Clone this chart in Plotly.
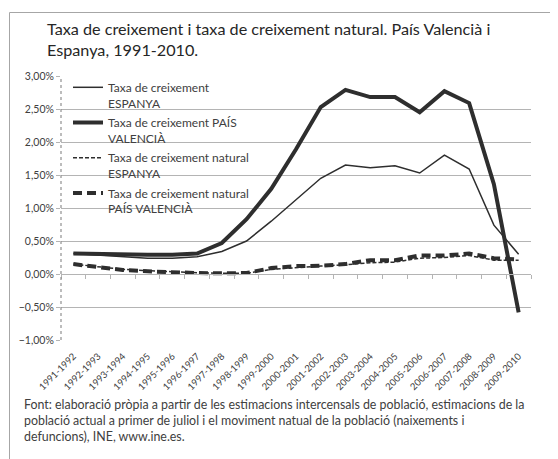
import plotly.graph_objects as go

cats = ["1991-1992", "1992-1993", "1993-1994", "1994-1995", "1995-1996", "1996-1997",
        "1997-1998", "1998-1999", "1999-2000", "2000-2001", "2001-2002", "2002-2003",
        "2003-2004", "2004-2005", "2005-2006", "2006-2007", "2007-2008", "2008-2009",
        "2009-2010"]

es_total = [0.31, 0.29, 0.27, 0.24, 0.24, 0.26, 0.34, 0.50, 0.80, 1.13, 1.45, 1.65,
            1.61, 1.64, 1.53, 1.80, 1.59, 0.74, 0.30]
pv_total = [0.31, 0.30, 0.29, 0.29, 0.29, 0.31, 0.47, 0.83, 1.29, 1.89, 2.53, 2.79,
            2.68, 2.68, 2.45, 2.77, 2.59, 1.36, -0.58]
es_nat = [0.15, 0.11, 0.07, 0.05, 0.03, 0.02, 0.01, 0.01, 0.07, 0.10, 0.12, 0.14,
          0.17, 0.18, 0.24, 0.25, 0.28, 0.21, 0.21]
pv_nat = [0.15, 0.10, 0.06, 0.04, 0.02, 0.015, 0.01, 0.015, 0.09, 0.12, 0.125, 0.15,
          0.21, 0.21, 0.28, 0.28, 0.31, 0.24, 0.22]

names = ["Taxa de creixement<br>ESPANYA",
         "Taxa de creixement PAÍS<br>VALENCIÀ",
         "Taxa de creixement natural<br>ESPANYA",
         "Taxa de creixement natural<br>PAÍS VALENCIÀ"]

title_text = ("Taxa de creixement i taxa de creixement natural. País Valencià i<br>"
              "Espanya, 1991-2010.")
footer_text = ("Font: elaboració pròpia a partir de les estimacions intercensals de població, estimacions de la<br>"
               "població actual a primer de juliol i el moviment natual de la població (naixements i<br>"
               "defuncions), INE, www.ine.es.")

FONT = "Lato"
TXT = "#404040"
LINE = "#2e2e2e"
GRID = "#b4b4b4"

W, H = 558, 459
OFF = 8   # page body margin: the figure is drawn 8px right/down in the window

def fx(x):  # window pixel -> paper fraction (paper = whole figure)
    return (x - OFF) / W

def fy(y):
    return 1 - (y - OFF) / H

PL, PR, PT, PB = 61, 531, 76, 340   # plot area in window pixels

fig = go.Figure()
styles = [dict(width=1.5), dict(width=4), dict(width=1.5, dash="4px,2px"),
          dict(width=4, dash="9px,5px")]
for i, (vals, st) in enumerate(zip([es_total, pv_total, es_nat, pv_nat], styles)):
    fig.add_trace(go.Scatter(x=cats, y=vals, name=names[i], mode="lines",
                             legendgroup=f"g{i}", line=dict(color=LINE, **st)))
# invisible trace to drive the zero-line axis with boundary ticks
fig.add_trace(go.Scatter(x=cats, y=es_total, xaxis="x2", mode="lines",
                         line=dict(color="rgba(0,0,0,0)", width=0),
                         showlegend=False, hoverinfo="skip"))

ymin, ymax = -1.0, 3.0
ydom = [fy(PB), fy(PT)]
zero_pos = ydom[0] + (0 - ymin) / (ymax - ymin) * (ydom[1] - ydom[0])
xrange = [-0.5, len(cats) - 0.5]

fig.update_layout(
    width=W, height=H,
    margin=dict(l=0, r=0, t=0, b=0, autoexpand=False),
    paper_bgcolor="white", plot_bgcolor="white",
    separators=",.",
    font=dict(family=FONT, color=TXT, size=10),
    showlegend=True,
    legend=dict(x=fx(68), y=fy(73), xanchor="left", yanchor="top",
                bgcolor="rgba(0,0,0,0)", font=dict(family=FONT, size=12, color=TXT),
                valign="top", tracegroupgap=1, itemwidth=30),
    xaxis=dict(domain=[fx(PL), fx(PR)], type="category", categoryarray=cats,
               categoryorder="array", range=xrange,
               showgrid=False, showline=False, zeroline=False, automargin=False,
               ticks="outside", ticklen=6, tickcolor="rgba(0,0,0,0)",
               tickangle=-45, tickfont=dict(family=FONT, size=9.5, color=TXT)),
    xaxis2=dict(domain=[fx(PL), fx(PR)], type="category", categoryarray=cats,
                categoryorder="array", range=xrange,
                overlaying="x", anchor="free", position=zero_pos, side="bottom",
                showgrid=False, showline=True, linecolor=GRID, linewidth=1,
                ticks="outside", ticklen=4, tickcolor=GRID, tickson="boundaries",
                showticklabels=False, zeroline=False, automargin=False),
    yaxis=dict(domain=ydom, range=[ymin, ymax], dtick=0.5, tickformat=".2f",
               ticksuffix="%",
               showgrid=True, gridcolor=GRID, gridwidth=1, zeroline=False,
               showline=False, ticks="outside", ticklen=4, tickcolor=GRID,
               automargin=False, tickfont=dict(family=FONT, size=10.5, color=TXT)),
)

# dotted vertical axis line
fig.add_shape(type="line", xref="x domain", yref="y domain", x0=0, x1=0, y0=0, y1=1,
              line=dict(color="#909090", width=1.2, dash="dot"))
# outer frame (left and top sides are visible)
fig.add_shape(type="line", xref="paper", yref="paper",
              x0=fx(9.5), x1=fx(9.5), y0=fy(480), y1=fy(12.5),
              line=dict(color="#a6a6a6", width=1))
fig.add_shape(type="line", xref="paper", yref="paper",
              x0=fx(9.5), x1=fx(580), y0=fy(12.5), y1=fy(12.5),
              line=dict(color="#a6a6a6", width=1))

fig.add_annotation(text=title_text, xref="paper", yref="paper", x=fx(45), y=fy(17),
                   xanchor="left", yanchor="top", align="left", showarrow=False,
                   font=dict(family=FONT, size=16.2, color="#262626"))

fig.add_annotation(text=footer_text, xref="paper", yref="paper", x=fx(22), y=fy(395),
                   xanchor="left", yanchor="top", align="left", showarrow=False,
                   font=dict(family=FONT, size=12.4, color=TXT))

fig.write_html("out.html")
